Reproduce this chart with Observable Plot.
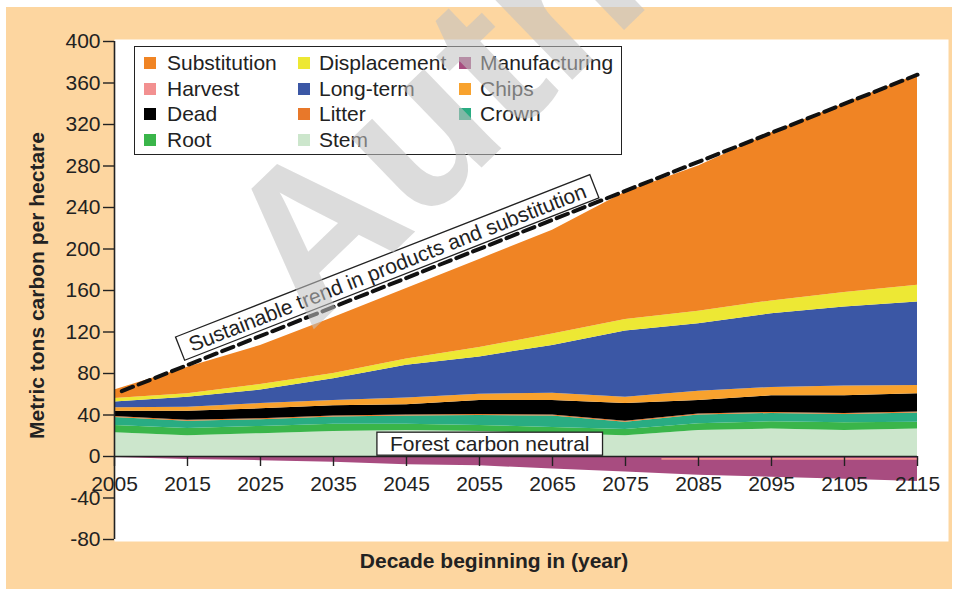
<!DOCTYPE html>
<html><head><meta charset="utf-8">
<script src="https://cdn.jsdelivr.net/npm/d3@7"></script>
<script src="https://cdn.jsdelivr.net/npm/@observablehq/plot@0.6"></script>
<style>
html,body{margin:0;padding:0;background:#fff;}
#wrap{position:relative;width:955px;height:589px;overflow:hidden;font-family:"Liberation Sans",Arial,Helvetica,sans-serif;}
#bg{position:absolute;left:6px;top:7px;width:946px;height:582px;background:#FDD6A0;}
#chart{position:absolute;left:0;top:0;}
#legend{position:absolute;left:134px;top:46px;width:486px;height:107px;border:1.5px solid #222;background:#fff;}
.item{position:absolute;font-size:21px;color:#222;line-height:24px;height:24px;white-space:nowrap;}
.sw{position:absolute;width:12px;height:12px;top:6px;}
#wm{position:absolute;left:0;top:0;pointer-events:none;}
</style></head><body>
<div id="wrap"><div id="bg"></div><div id="chart"></div><div id="legend"></div>
<svg id="wm" width="955" height="589"><text transform="translate(310,333) rotate(-44)" font-family="Liberation Sans, Arial, sans-serif" font-weight="bold" font-size="210" fill="rgb(193,193,193)" fill-opacity="0.57">Author’s personal copy</text></svg>
</div>
<script>
// ---- data (metric tons carbon per hectare) ----
const years = [2005, 2015, 2025, 2035, 2045, 2055, 2065, 2075, 2085, 2095, 2105, 2115];
const stem         = [23, 20, 22, 24, 25, 24, 22, 20, 25, 26.5, 25, 26.5];
const root         = [7, 7, 7, 7, 6, 6, 6, 6, 6.5, 7, 7.5, 6.5];
const crown        = [7.5, 7, 6.5, 7, 8, 9.5, 11, 7, 8.5, 8, 8, 9];
const litter       = [1, 1, 1, 1, 1, 1, 1, 1, 1, 1, 1, 1];
const dead         = [5, 8.5, 9.5, 10, 10, 13.5, 14, 17, 13, 16, 17, 17.5];
const chips        = [3.5, 4, 5, 5, 6.5, 6, 7, 6, 9, 8, 9.5, 8];
const longTerm     = [5.5, 9.5, 13, 21, 31.5, 36, 46, 64, 65, 71, 76, 80.5];
const displacement = [3.5, 3.5, 5.5, 5, 6, 9, 11, 11, 12, 12.5, 14, 16];
const substitution = [8, 25.5, 37.5, 54, 68, 85, 100, 123, 140, 162, 182, 203];
const manufacturing= [-1, -3, -4, -5.5, -8, -9, -12, -15, -18, -20, -22, -24];
const harvestYears  = [2080, 2085, 2095, 2105, 2115];
const harvestValues = [-2.3, -2.3, -2.3, -2.3, -2.3];
const trendYears  = [2006, 2115];
const trendValues = [63, 368];
const xTicks = [2005, 2015, 2025, 2035, 2045, 2055, 2065, 2075, 2085, 2095, 2105, 2115];
const yTicks = [-80, -40, 0, 40, 80, 120, 160, 200, 240, 280, 320, 360, 400];
const legendItems = ["Substitution","Harvest","Dead","Root","Displacement","Long-term","Litter","Stem","Manufacturing","Chips","Crown"];
const colorMap = {
  "Substitution":"#F08424","Harvest":"#F29090","Dead":"#000000","Root":"#3AB54A",
  "Displacement":"#EDE834","Long-term":"#3B57A5","Litter":"#E8782A","Stem":"#CCE6CC",
  "Manufacturing":"#A84C80","Chips":"#F8A22E","Crown":"#29AC82"
};
const stackOrder = ["Stem","Root","Crown","Litter","Dead","Chips","Long-term","Displacement","Substitution","Manufacturing"];
const seriesValues = {"Stem":stem,"Root":root,"Crown":crown,"Litter":litter,"Dead":dead,"Chips":chips,
  "Long-term":longTerm,"Displacement":displacement,"Substitution":substitution,"Manufacturing":manufacturing};
const annoForest = {x: 2056.4, y: 11.6, text: "Forest carbon neutral"};
const annoTrend  = {x: 2042.4, y: 181.5, text: "Sustainable trend in products and substitution"};

// ---- build tables ----
const stackData = [];
for (const c of stackOrder) years.forEach((yr, i) => stackData.push({year: yr, component: c, value: seriesValues[c][i]}));
const harvestData = harvestYears.map((yr, i) => ({year: yr, value: harvestValues[i]}));
const trendData = trendYears.map((yr, i) => ({year: yr, value: trendValues[i]}));

const W = 955, H = 589, mL = 114, mR = 7, mT = 39, mB = 48;
const yRange = [539, 41], xRange = [114, 917];
const yDomain = [-80, 400];
const yZeroPx = yRange[0] + (0 - yDomain[0]) / (yDomain[1] - yDomain[0]) * (yRange[1] - yRange[0]);
const axisDy = yZeroPx - (H - mB);

const svg = Plot.plot({
  width: W, height: H,
  marginLeft: mL, marginRight: mR, marginTop: mT, marginBottom: mB,
  style: {background: "transparent", fontFamily: "'Liberation Sans', Arial, Helvetica, sans-serif", fontSize: "21px", color: "#222", overflow: "visible"},
  x: {domain: [2005, 2115], range: xRange, axis: null},
  y: {domain: yDomain, range: yRange, axis: null},
  color: {domain: Object.keys(colorMap), range: Object.values(colorMap)},
  marks: [
    Plot.frame({fill: "white", stroke: null}),
    Plot.areaY(stackData, {x: "year", y: "value", z: "component", fill: "component", order: stackOrder, curve: "linear"}),
    Plot.lineY(harvestData, {x: "year", y: "value", stroke: colorMap["Harvest"], strokeWidth: 1.6}),
    Plot.lineY(trendData, {x: "year", y: "value", stroke: "#111", strokeWidth: 4, strokeDasharray: "12,6"}),
    Plot.text([annoTrend], {x: "x", y: "y", text: "text", rotate: -21.4, fontSize: 21, fill: "#222", textAnchor: "middle", lineAnchor: "middle"}),
    Plot.text([annoForest], {x: "x", y: "y", text: "text", fontSize: 21, fill: "#222", textAnchor: "middle", lineAnchor: "middle"}),
    Plot.ruleY([0], {x1: 2005, x2: 2115, stroke: "#222", strokeWidth: 1.6}),
    Plot.ruleX([2005], {y1: -80, y2: 400, stroke: "#222", strokeWidth: 1.6}),
    Plot.axisY({ticks: yTicks, anchor: "left", tickFormat: d => String(d), tickSize: 11, tickPadding: 3, fontSize: 21, label: null, stroke: "#222", strokeWidth: 1.4}),
    Plot.axisX({ticks: xTicks, anchor: "bottom", tickFormat: d => String(d), dy: axisDy, tickSize: 10, tickPadding: 10, fontSize: 21, label: null, stroke: "#222", strokeWidth: 1.4}),
    Plot.text(["Metric tons carbon per hectare"], {frameAnchor: "left", dx: -77, dy: -5, rotate: -90, fontWeight: "bold", fontSize: 21, textAnchor: "middle", lineAnchor: "middle", fill: "#222"}),
    Plot.text(["Decade beginning in (year)"], {frameAnchor: "bottom", dx: -37.5, dy: 20, fontWeight: "bold", fontSize: 21, textAnchor: "middle", lineAnchor: "middle", fill: "#222"})
  ]
});
document.getElementById("chart").appendChild(svg);

// boxes behind annotation texts
const pads = {[annoForest.text]: [13, 0], [annoTrend.text]: [10, 1]};
svg.querySelectorAll("text").forEach(t => {
  const p = pads[t.textContent];
  if (!p) return;
  const b = t.getBBox();
  const r = document.createElementNS("http://www.w3.org/2000/svg", "rect");
  r.setAttribute("x", b.x - p[0]);
  r.setAttribute("y", b.y - p[1]);
  r.setAttribute("width", b.width + 2 * p[0]);
  r.setAttribute("height", b.height + 2 * p[1]);
  const tr = t.getAttribute("transform");
  if (tr) r.setAttribute("transform", tr);
  r.setAttribute("fill", "white");
  r.setAttribute("stroke", "#222");
  r.setAttribute("stroke-width", "1.3");
  t.parentNode.insertBefore(r, t);
});

// legend
const lg = document.getElementById("legend");
const colSw = [9, 163, 324], colLab = [32, 184, 345];
legendItems.forEach((name, i) => {
  const col = Math.floor(i / 4), row = i % 4;
  const top = 4 + row * 25.5;
  const sw = document.createElement("div");
  sw.className = "sw";
  sw.style.left = colSw[col] + "px";
  sw.style.top = (top + 6) + "px";
  sw.style.background = colorMap[name];
  lg.appendChild(sw);
  const lab = document.createElement("div");
  lab.className = "item";
  lab.style.left = colLab[col] + "px";
  lab.style.top = top + "px";
  lab.textContent = name;
  lg.appendChild(lab);
});
</script>
</body></html>
